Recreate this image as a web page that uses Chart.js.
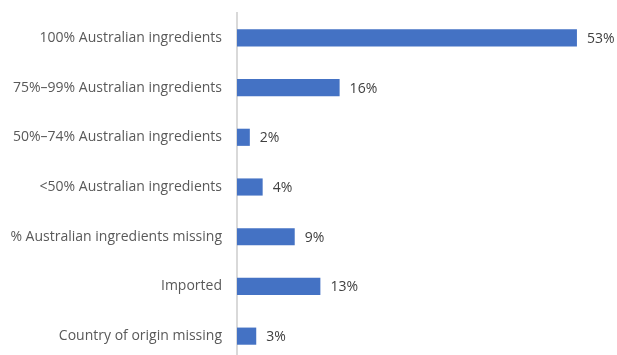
<!doctype html>
<html lang="en">
<head>
    <meta charset="utf-8">
    <title>Australian ingredients</title>
    <script src="https://cdn.jsdelivr.net/npm/chart.js"></script>
    <style>
        html, body { margin: 0; padding: 0; background: #fff; overflow: hidden; }
        /* plot is a bit taller than the window, the last band gets cut like in the source */
        .wrap { position: relative; width: 617px; height: 361px; }
    </style>
</head>
<body>
    <div class="wrap"><canvas id="originChart"></canvas></div>
    <script>
        const categories = [
            '100% Australian ingredients',
            '75%\u201399% Australian ingredients',
            '50%\u201374% Australian ingredients',
            '<50% Australian ingredients',
            '% Australian ingredients missing',
            'Imported',
            'Country of origin missing'
        ];
        const shares = [53, 16, 2, 4, 9, 13, 3];

        // draws the "53%" style labels at the bar ends
        const valueLabels = {
            id: 'valueLabels',
            afterDatasetsDraw(chart) {
                const ctx = chart.ctx;
                const meta = chart.getDatasetMeta(0);
                ctx.save();
                ctx.font = '14px "Open Sans"';
                ctx.fillStyle = '#404040';
                ctx.textBaseline = 'middle';
                meta.data.forEach((bar, i) => {
                    ctx.fillText(shares[i] + '%', bar.x + 10, bar.y + 1);
                });
                ctx.restore();
            }
        };

        const ctx = document.getElementById('originChart').getContext('2d');
        new Chart(ctx, {
            type: 'bar',
            data: {
                labels: categories,
                datasets: [{
                    data: shares,
                    backgroundColor: '#4472C4',
                    categoryPercentage: 1,
                    barPercentage: 0.345
                }]
            },
            plugins: [valueLabels],
            options: {
                indexAxis: 'y',
                responsive: true,
                maintainAspectRatio: false,
                animation: false,
                layout: { padding: { left: 0, right: 8, top: 13, bottom: 0 } },
                plugins: {
                    legend: { display: false },
                    tooltip: { enabled: false }
                },
                scales: {
                    x: {
                        min: 0,
                        max: 58,
                        display: false
                    },
                    y: {
                        afterFit: (scale) => {
                            scale.width = 237;
                            scale.paddingTop = 0;
                            scale.paddingBottom = 0;
                        },
                        grid: { display: false, drawTicks: false },
                        border: { color: '#d9d9d9', width: 2 },
                        ticks: {
                            padding: 15,
                            color: '#595959',
                            font: { family: 'Open Sans', size: 14 }
                        }
                    }
                }
            }
        });
    </script>
</body>
</html>
